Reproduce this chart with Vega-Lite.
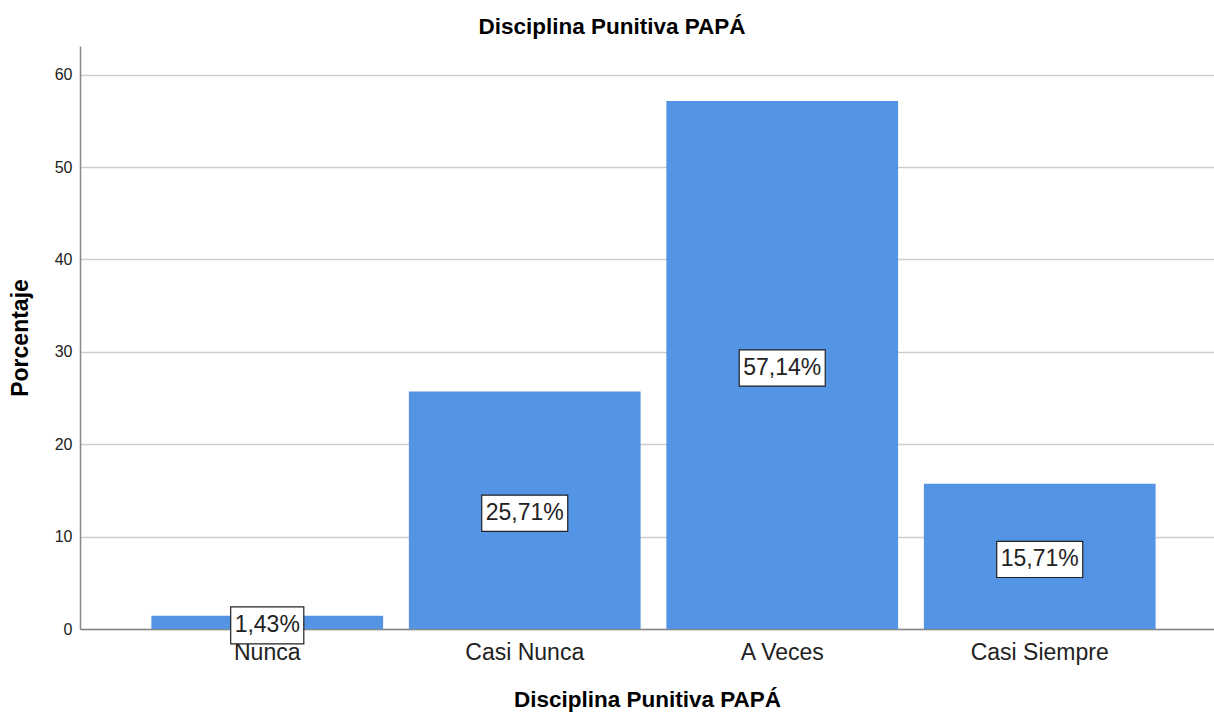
{
  "$schema": "https://vega.github.io/schema/vega-lite/v6.json",
  "width": 1134,
  "height": 583,
  "autosize": "none",
  "padding": {"left": 80, "top": 46, "right": 0, "bottom": 83},
  "background": "white",
  "title": {
    "text": "Disciplina Punitiva PAPÁ",
    "font": "Liberation Sans",
    "fontSize": 22.5,
    "fontWeight": "bold",
    "color": "#000000",
    "anchor": "middle",
    "frame": "group",
    "dx": -35,
    "offset": 8
  },
  "data": {
    "values": [
      {"cat": "Nunca", "v": 1.43, "label": "1,43%"},
      {"cat": "Casi Nunca", "v": 25.71, "label": "25,71%"},
      {"cat": "A Veces", "v": 57.14, "label": "57,14%"},
      {"cat": "Casi Siempre", "v": 15.71, "label": "15,71%"}
    ]
  },
  "encoding": {
    "x": {
      "field": "cat",
      "type": "nominal",
      "sort": null,
      "scale": {"paddingInner": 0.1, "paddingOuter": 0.252, "align": 0.55},
      "axis": {
        "title": "Disciplina Punitiva PAPÁ",
        "titleFont": "Liberation Sans",
        "titleFontSize": 22.5,
        "titleFontWeight": "bold",
        "titleColor": "#000000",
        "titlePadding": 24,
        "labelFont": "Liberation Sans",
        "labelFontSize": 23,
        "labelColor": "#222222",
        "labelAngle": 0,
        "labelPadding": 12,
        "ticks": false,
        "domainColor": "#888888",
        "domainWidth": 1.5,
        "grid": false
      }
    }
  },
  "layer": [
    {
      "mark": {"type": "bar", "color": "#5494E4"},
      "encoding": {
        "y": {
          "field": "v",
          "type": "quantitative",
          "scale": {"domain": [0, 63.1], "nice": false},
          "axis": {
            "title": "Porcentaje",
            "titleFont": "Liberation Sans",
            "titleFontSize": 23,
            "titleFontWeight": "bold",
            "titleColor": "#000000",
            "titlePadding": 22,
            "values": [0, 10, 20, 30, 40, 50, 60],
            "labelFont": "Liberation Sans",
            "labelFontSize": 16,
            "labelColor": "#222222",
            "labelPadding": 8,
            "ticks": false,
            "domainColor": "#888888",
            "domainWidth": 1.5,
            "gridColor": "#cccccc",
            "gridWidth": 1.5
          }
        }
      }
    },
    {
      "layer": [
        {
          "mark": {"type": "point", "filled": true, "fill": "white", "stroke": "#222222", "strokeWidth": 1.2, "opacity": 1, "size": 7396, "yOffset": 3},
          "encoding": {
            "shape": {
              "condition": {"test": "datum.v < 10", "value": "M-0.85,-0.43L0.85,-0.43L0.85,0.43L-0.85,0.43Z"},
              "value": "M-1,-0.42L1,-0.42L1,0.42L-1,0.42Z"
            }
          }
        },
        {
          "mark": {"type": "text", "font": "Liberation Sans", "fontSize": 23, "color": "#222222", "baseline": "middle", "align": "center", "yOffset": 3},
          "encoding": {"text": {"field": "label"}}
        }
      ],
      "encoding": {
        "y": {
          "field": "v",
          "type": "quantitative",
          "scale": {"domain": [0, 126.2], "nice": false},
          "axis": null
        }
      }
    }
  ],
  "resolve": {"scale": {"y": "independent"}},
  "config": {"view": {"stroke": null}}
}
